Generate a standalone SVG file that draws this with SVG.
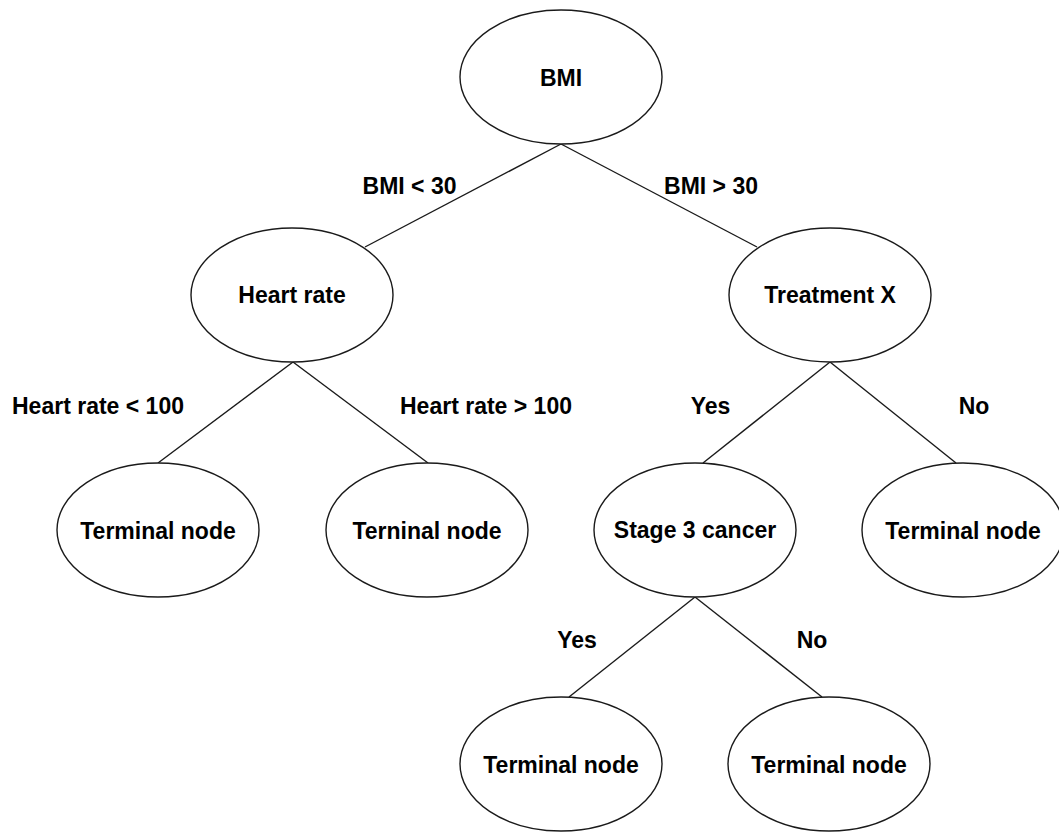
<svg xmlns="http://www.w3.org/2000/svg" width="1059" height="832" viewBox="0 0 1059 832">
<style>
.n ellipse{fill:#fff;stroke:#1a1a1a;stroke-width:1.4}
.n text{font-family:"Liberation Sans",Arial,sans-serif;font-weight:bold;font-size:23px;fill:#000;text-anchor:middle}
.lbl{font-family:"Liberation Sans",Arial,sans-serif;font-weight:bold;font-size:23px;fill:#000;text-anchor:middle}
#edges line{stroke:#1a1a1a;stroke-width:1.4;fill:none}
</style>
<rect width="1059" height="832" fill="#fff"/>
<g id="edges">
<line x1="561" y1="144" x2="365" y2="247"/>
<line x1="561" y1="144" x2="757" y2="247"/>
<line x1="293" y1="362" x2="158" y2="463"/>
<line x1="293" y1="362" x2="428" y2="463"/>
<line x1="830" y1="362" x2="703" y2="463"/>
<line x1="830" y1="362" x2="956" y2="463"/>
<line x1="695" y1="597" x2="569" y2="697"/>
<line x1="695" y1="597" x2="822" y2="697"/>
<text class="lbl" x="409.5" y="194">BMI &lt; 30</text>
<text class="lbl" x="711" y="194">BMI &gt; 30</text>
<text class="lbl" x="98" y="414">Heart rate &lt; 100</text>
<text class="lbl" x="486" y="414">Heart rate &gt; 100</text>
<text class="lbl" x="710.5" y="414">Yes</text>
<text class="lbl" x="974" y="414">No</text>
<text class="lbl" x="577" y="648">Yes</text>
<text class="lbl" x="812" y="648">No</text>
</g>
<g id="bmi" class="n"><ellipse cx="561" cy="77" rx="101" ry="67"/><text x="561" y="86">BMI</text></g>
<g id="heart-rate" class="n"><ellipse cx="292" cy="295" rx="101" ry="67"/><text x="292" y="303">Heart rate</text></g>
<g id="treatment-x" class="n"><ellipse cx="830" cy="295" rx="101" ry="67"/><text x="830" y="303">Treatment X</text></g>
<g id="terminal-1" class="n"><ellipse cx="158" cy="530" rx="101" ry="67"/><text x="158" y="539">Terminal node</text></g>
<g id="terminal-2" class="n"><ellipse cx="427" cy="530" rx="101" ry="67"/><text x="427" y="539">Terninal node</text></g>
<g id="stage-3" class="n"><ellipse cx="695" cy="530" rx="101" ry="67"/><text x="695" y="538">Stage 3 cancer</text></g>
<g id="terminal-3" class="n"><ellipse cx="963" cy="530" rx="101" ry="67"/><text x="963" y="539">Terminal node</text></g>
<g id="terminal-4" class="n"><ellipse cx="561" cy="764" rx="101" ry="67"/><text x="561" y="773">Terminal node</text></g>
<g id="terminal-5" class="n"><ellipse cx="829" cy="764" rx="101" ry="67"/><text x="829" y="773">Terminal node</text></g>
</svg>
